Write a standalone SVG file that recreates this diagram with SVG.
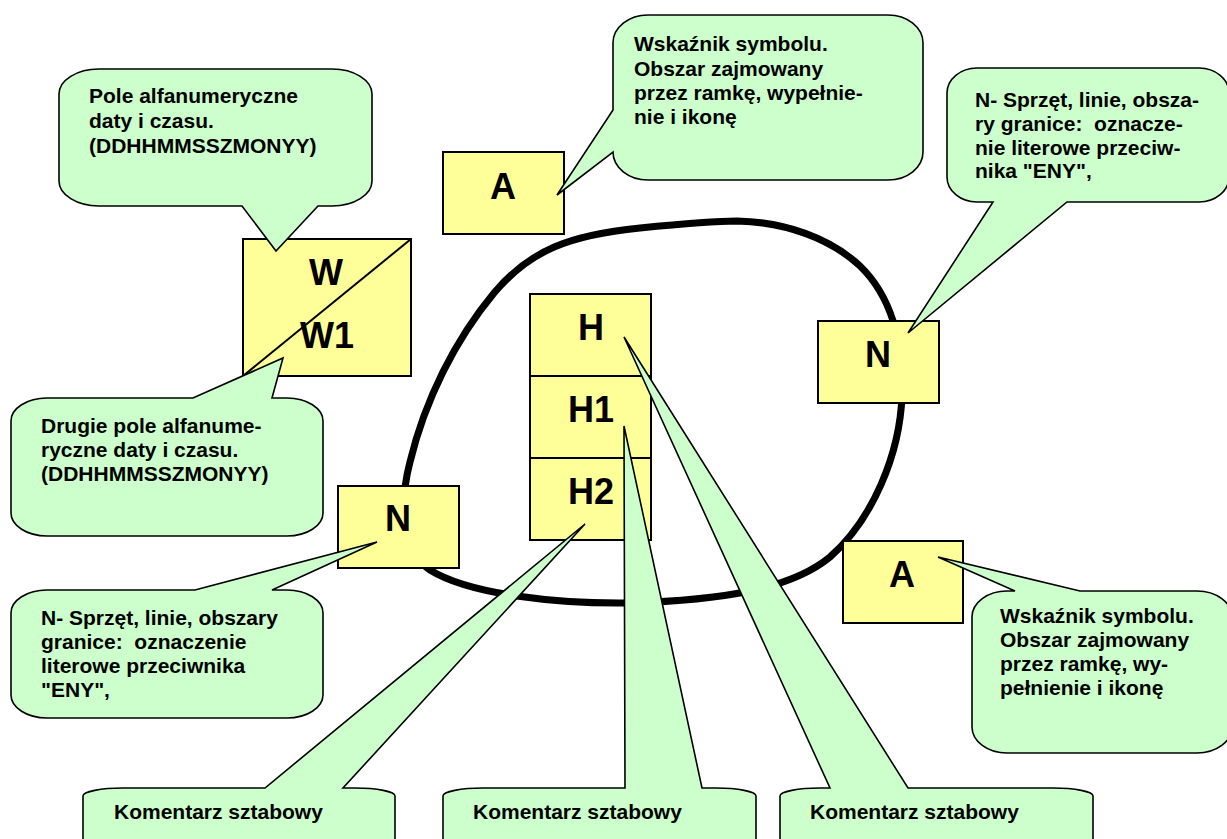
<svg xmlns="http://www.w3.org/2000/svg" width="1227" height="839" viewBox="0 0 1227 839">
<style>
.bg{fill:#ffffff}
.blob{fill:none;stroke:#000;stroke-width:7;stroke-linejoin:round}
.box{fill:#FFFF99;stroke:#000;stroke-width:2}
.call{fill:#CCFFCC;stroke:#000;stroke-width:1.6;stroke-linejoin:miter}
.big{font-family:"Liberation Sans",Arial,sans-serif;font-weight:bold;font-size:36px;fill:#000;text-anchor:middle}
.t{font-family:"Liberation Sans",Arial,sans-serif;font-weight:bold;font-size:21px;fill:#000;white-space:pre}
</style>
<rect class="bg" x="0" y="0" width="1227" height="839"/>
<g id="blob">
<path class="blob" d="M 737,221 C 785,222 830,238 860,266 C 890,295 904,340 902,395 C 900,455 872,520 830,557 C 790,590 720,600 630,603 C 560,604 470,595 430,570 C 400,550 400,500 410,462 C 425,400 455,340 494,293 C 530,250 570,235 640,228 C 680,224 710,221 737,221 Z"/>
</g>
<g id="node-W">
<rect class="box" x="243" y="239" width="168" height="137"/>
<line x1="411" y1="239" x2="243" y2="376" stroke="#000" stroke-width="2"/>
<text class="big" x="326" y="285">W</text>
<text class="big" x="327" y="348">W1</text>
</g>
<g id="node-A-top">
<rect class="box" x="443" y="152" width="121" height="82"/>
<text class="big" x="503" y="199">A</text>
</g>
<g id="node-N-right">
<rect class="box" x="818" y="321" width="121" height="82"/>
<text class="big" x="878" y="367">N</text>
</g>
<g id="node-N-left">
<rect class="box" x="338" y="486" width="121" height="82"/>
<text class="big" x="398" y="531">N</text>
</g>
<g id="node-H">
<rect class="box" x="530" y="294" width="121" height="82"/>
<text class="big" x="591" y="340">H</text>
</g>
<g id="node-H1">
<rect class="box" x="530" y="376" width="121" height="82"/>
<text class="big" x="591" y="422">H1</text>
</g>
<g id="node-H2">
<rect class="box" x="530" y="458" width="121" height="82"/>
<text class="big" x="591" y="504">H2</text>
</g>
<g id="node-A-bottom">
<rect class="box" x="843" y="541" width="120" height="82"/>
<text class="big" x="902" y="587">A</text>
</g>
<g id="connectors">
<g id="callout-W">
<path class="call" d="M 99,69 H 332 A 40 25 0 0 1 372,94 V 181 A 40 25 0 0 1 332,206 H 318 L 276,251 L 242,206 H 99 A 40 25 0 0 1 59,181 V 94 A 40 25 0 0 1 99,69 Z"/>
<text class="t" x="89" y="103">Pole alfanumeryczne</text>
<text class="t" x="89" y="128">daty i czasu.</text>
<text class="t" x="89" y="153">(DDHHMMSSZMONYY)</text>
</g>
<g id="callout-A-top">
<path class="call" d="M 648,15 H 888 A 35 28 0 0 1 923,43 V 152 A 35 28 0 0 1 888,180 H 648 A 35 28 0 0 1 613,152 L 557,195 L 613,110 V 43 A 35 28 0 0 1 648,15 Z"/>
<text class="t" x="634" y="51">Wskaźnik symbolu.</text>
<text class="t" x="634" y="76">Obszar zajmowany</text>
<text class="t" x="634" y="100">przez ramkę, wypełnie-</text>
<text class="t" x="634" y="124">nie i ikonę</text>
</g>
<g id="callout-N-right">
<path class="call" d="M 977,68 H 1199 A 30 25 0 0 1 1229,93 V 177 A 30 25 0 0 1 1199,202 H 1067 L 908,333 L 993,202 H 977 A 30 25 0 0 1 947,177 V 93 A 30 25 0 0 1 977,68 Z"/>
<text class="t" x="975" y="107">N- Sprzęt, linie, obsza-</text>
<text class="t" x="975" y="131" xml:space="preserve">ry granice:  oznacze-</text>
<text class="t" x="975" y="155">nie literowe przeciw-</text>
<text class="t" x="975" y="178">nika "ENY",</text>
</g>
<g id="callout-W1">
<path class="call" d="M 47,398 H 193 L 283,358 L 272,398 H 287 A 36 23 0 0 1 323,421 V 513 A 36 23 0 0 1 287,536 H 47 A 36 23 0 0 1 11,513 V 421 A 36 23 0 0 1 47,398 Z"/>
<text class="t" x="41" y="433">Drugie pole alfanume-</text>
<text class="t" x="41" y="457">ryczne daty i czasu.</text>
<text class="t" x="41" y="481">(DDHHMMSSZMONYY)</text>
</g>
<g id="callout-N-left">
<path class="call" d="M 47,590 H 195 L 377,542 L 272,590 H 287 A 36 23 0 0 1 323,613 V 695 A 36 23 0 0 1 287,718 H 47 A 36 23 0 0 1 11,695 V 613 A 36 23 0 0 1 47,590 Z"/>
<text class="t" x="41" y="625">N- Sprzęt, linie, obszary</text>
<text class="t" x="41" y="649" xml:space="preserve">granice:  oznaczenie</text>
<text class="t" x="41" y="673">literowe przeciwnika</text>
<text class="t" x="41" y="697">"ENY",</text>
</g>
<g id="callout-A-bottom">
<path class="call" d="M 1007,591 H 1015 L 938,557 L 1080,591 H 1197 A 35 26 0 0 1 1232,617 V 727 A 35 26 0 0 1 1197,753 H 1007 A 35 26 0 0 1 972,727 V 617 A 35 26 0 0 1 1007,591 Z"/>
<text class="t" x="1000" y="623">Wskaźnik symbolu.</text>
<text class="t" x="1000" y="647">Obszar zajmowany</text>
<text class="t" x="1000" y="671">przez ramkę, wy-</text>
<text class="t" x="1000" y="695">pełnienie i ikonę</text>
</g>
<g id="callout-H2">
<path class="call" d="M 123,788 H 265 L 585,524 L 343,788 H 355 A 40 8 0 0 1 395,796 V 860 H 83 V 796 A 40 8 0 0 1 123,788 Z"/>
<text class="t" x="114" y="819">Komentarz sztabowy</text>
</g>
<g id="callout-H1">
<path class="call" d="M 483,788 H 625 L 624,426 L 702,788 H 716 A 40 8 0 0 1 756,796 V 860 H 443 V 796 A 40 8 0 0 1 483,788 Z"/>
<text class="t" x="473" y="819">Komentarz sztabowy</text>
</g>
<g id="callout-H">
<path class="call" d="M 820,788 H 830 L 624,337 L 908,788 H 1053 A 40 8 0 0 1 1093,796 V 860 H 780 V 796 A 40 8 0 0 1 820,788 Z"/>
<text class="t" x="810" y="819">Komentarz sztabowy</text>
</g>
</g>
</svg>
